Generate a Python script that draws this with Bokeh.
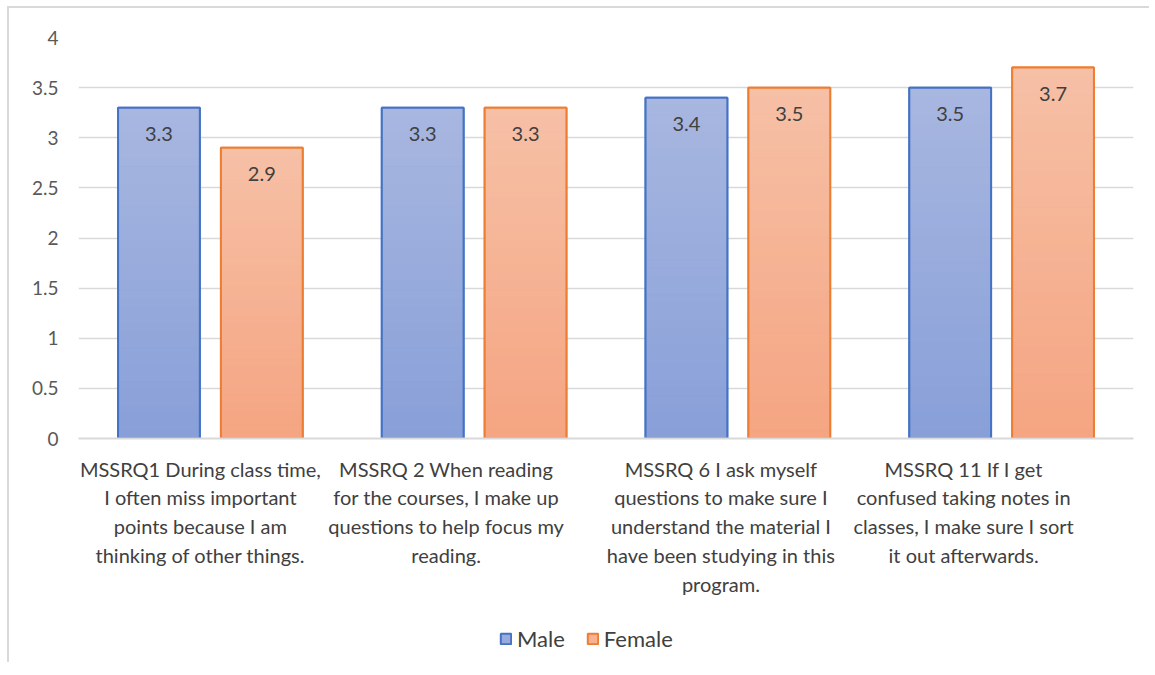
import numpy as np
from bokeh.plotting import figure
from bokeh.layouts import column
from bokeh.models import ColumnDataSource, FixedTicker, Legend, LegendItem, Range1d
from bokeh.core.properties import value
from bokeh.embed import file_html
from bokeh.resources import INLINE

categories = [
    "MSSRQ1 During class time,\nI often miss important\npoints because I am\nthinking of other things.",
    "MSSRQ 2 When reading\nfor the courses, I make up\nquestions to help focus my\nreading.",
    "MSSRQ 6 I ask myself\nquestions to make sure I\nunderstand the material I\nhave been studying in this\nprogram.",
    "MSSRQ 11 If I get\nconfused taking notes in\nclasses, I make sure I sort\nit out afterwards.",
]
male = [3.3, 3.3, 3.4, 3.5]
female = [2.9, 3.3, 3.5, 3.7]
series_names = ["Male", "Female"]
y_ticks = [0, 0.5, 1, 1.5, 2, 2.5, 3, 3.5, 4]

FONT = "Lato"
TEXT = "#404040"
FRAME_W = 1055.0            # px width of plot frame
LABEL_DX = [-10, -28, -17, -38]  # px shift of wrapped category labels (as in the reference)

p = figure(width=1140, height=602, output_backend="svg", toolbar_location=None,
           x_range=Range1d(0, 4), y_range=Range1d(0, 4),
           min_border_left=69, min_border_top=29, min_border_right=16, min_border_bottom=172)
p.outline_line_color = None
p.background_fill_color = "white"

# axes
p.yaxis.ticker = FixedTicker(ticks=y_ticks)
p.yaxis.axis_line_color = None
p.yaxis.major_tick_line_color = None
p.yaxis.minor_tick_line_color = None
p.yaxis.major_label_standoff = 14
p.yaxis.major_label_text_font = FONT
p.yaxis.major_label_text_font_size = "19px"
p.yaxis.major_label_text_color = "#595959"
p.yaxis.major_label_overrides = {0: "0", 1: "1", 2: "2", 3: "3", 4: "4"}

xt = [i + 0.5 + dx * 4 / FRAME_W for i, dx in enumerate(LABEL_DX)]
p.xaxis.ticker = FixedTicker(ticks=xt)
p.xaxis.major_label_overrides = {t: c for t, c in zip(xt, categories)}
p.xaxis.axis_line_color = "#D9D9D9"
p.xaxis.axis_line_width = 2
p.xaxis.major_tick_line_color = None
p.xaxis.minor_tick_line_color = None
p.xaxis.major_label_standoff = 12
p.xaxis.major_label_text_font = FONT
p.xaxis.major_label_text_font_size = "20px"
p.xaxis.major_label_text_color = TEXT
p.xaxis.major_label_text_line_height = 1.2
p.xaxis.major_label_text_align = "center"

p.xgrid.grid_line_color = None
p.ygrid.ticker = FixedTicker(ticks=y_ticks)
p.ygrid.grid_line_color = "#D9D9D9"
p.ygrid.grid_line_width = 1.5

dodge = 0.195
bw = 0.31
styles = {
    "Male": dict(vals=male, off=-dodge, line="#4472C4", top="#A8B7E0", bot="#889FD8", mid="#98ABDC"),
    "Female": dict(vals=female, off=dodge, line="#ED7D31", top="#F6C0A6", bot="#F5A582", mid="#F6B293"),
}

def hex2rgb(h):
    h = h.lstrip("#")
    return np.array([int(h[i:i + 2], 16) for i in (0, 2, 4)], dtype=float)

# legend figure
lf = figure(width=1140, height=52, output_backend="svg", toolbar_location=None,
            x_range=Range1d(0, 1), y_range=Range1d(0, 1),
            x_axis_location=None, y_axis_location=None,
            min_border_left=0, min_border_right=0, min_border_top=0, min_border_bottom=0)
lf.outline_line_color = None
lf.xgrid.grid_line_color = None
lf.ygrid.grid_line_color = None

N = 40
items = []
for name in series_names:
    s = styles[name]
    xs = [i + 0.5 + s["off"] for i in range(len(s["vals"]))]
    p.vbar(x=xs, top=s["vals"], width=bw, fill_color=s["mid"], line_color=s["line"], line_width=2)
    cx, cb, ct, cc = [], [], [], []
    c_top, c_bot = hex2rgb(s["top"]), hex2rgb(s["bot"])
    for x, v in zip(xs, s["vals"]):
        for k in range(N):
            t = (k + 0.5) / N
            c = c_bot + (c_top - c_bot) * t
            cx.append(x)
            cb.append(v * k / N)
            ct.append(v * (k + 1) / N)
            cc.append("#%02x%02x%02x" % tuple(int(round(q)) for q in c))
    p.vbar(x=cx, bottom=cb, top=ct, width=bw, fill_color=cc, line_color=cc, line_width=1)
    p.vbar(x=xs, top=s["vals"], width=bw, fill_color=None, line_color=s["line"], line_width=2)
    src = ColumnDataSource(dict(x=xs, y=s["vals"], t=["%.1f" % v for v in s["vals"]]))
    p.text(x="x", y="y", text="t", source=src, text_align="center", text_baseline="middle",
           y_offset=26, text_font=value(FONT), text_font_size="20px", text_color=TEXT)
    # non-drawn proxy (NaN height) for the legend swatch
    dummy = lf.vbar(x=[0.5], top=[float("nan")], bottom=[float("nan")], width=0.1,
                    fill_color=s["mid"], line_color=s["line"], line_width=2)
    items.append(LegendItem(label=name, renderers=[dummy]))

legend = Legend(items=items, orientation="horizontal", location=(421, 10),
                label_text_font=FONT, label_text_font_size="22px", label_text_color=TEXT,
                glyph_width=13, glyph_height=13, spacing=21, label_standoff=5,
                border_line_color=None, background_fill_alpha=0, margin=0, padding=6)
lf.add_layout(legend, "center")

layout = column(p, lf, spacing=0)
layout.styles = {"margin-left": "7px", "margin-top": "6px",
                 "border-top": "2px solid #D9D9D9", "border-left": "2px solid #D9D9D9"}

open("out.html", "w").write(file_html(layout, INLINE))
